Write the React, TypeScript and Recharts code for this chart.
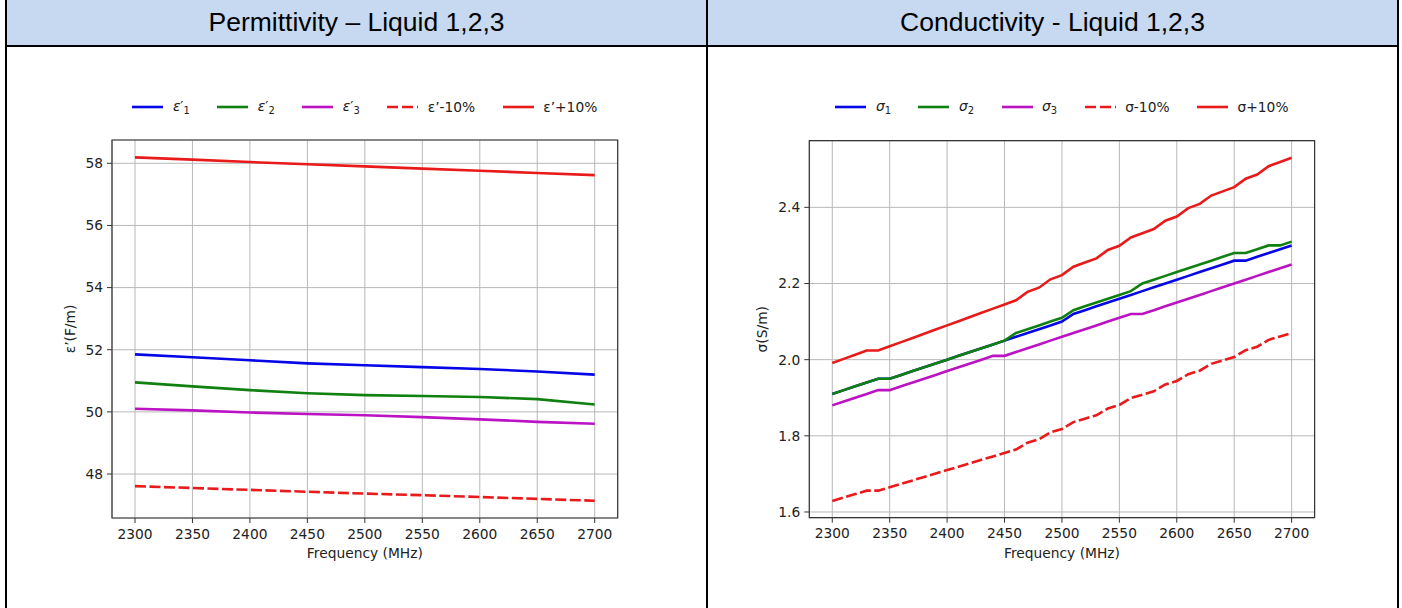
import React from 'react';
import { LineChart, Line, XAxis, YAxis, CartesianGrid, Legend, ReferenceArea } from 'recharts';

// ---------- Permittivity (left) ----------
const FREQ_EPS = [2300, 2350, 2400, 2450, 2500, 2550, 2600, 2650, 2700];
const EPS1 = [51.85, 51.76, 51.66, 51.56, 51.5, 51.44, 51.38, 51.3, 51.2];
const EPS2 = [50.95, 50.82, 50.7, 50.6, 50.54, 50.51, 50.48, 50.41, 50.24];
const EPS3 = [50.1, 50.05, 49.98, 49.93, 49.89, 49.83, 49.76, 49.68, 49.62];
const EPS_LO = [47.61, 47.55, 47.49, 47.43, 47.37, 47.32, 47.26, 47.2, 47.14];
const EPS_HI = [58.19, 58.12, 58.04, 57.97, 57.9, 57.83, 57.76, 57.69, 57.62];

// ---------- Conductivity (right) ----------
const FREQ_SIG = [
  2300, 2310, 2320, 2330, 2340, 2350, 2360, 2370, 2380, 2390, 2400, 2410, 2420, 2430,
  2440, 2450, 2460, 2470, 2480, 2490, 2500, 2510, 2520, 2530, 2540, 2550, 2560, 2570,
  2580, 2590, 2600, 2610, 2620, 2630, 2640, 2650, 2660, 2670, 2680, 2690, 2700,
];
const SIG1 = [
  1.91, 1.92, 1.93, 1.94, 1.95, 1.95, 1.96, 1.97, 1.98, 1.99, 2.0, 2.01, 2.02, 2.03,
  2.04, 2.05, 2.06, 2.07, 2.08, 2.09, 2.1, 2.12, 2.13, 2.14, 2.15, 2.16, 2.17, 2.18,
  2.19, 2.2, 2.21, 2.22, 2.23, 2.24, 2.25, 2.26, 2.26, 2.27, 2.28, 2.29, 2.3,
];
const SIG2 = [
  1.91, 1.92, 1.93, 1.94, 1.95, 1.95, 1.96, 1.97, 1.98, 1.99, 2.0, 2.01, 2.02, 2.03,
  2.04, 2.05, 2.07, 2.08, 2.09, 2.1, 2.11, 2.13, 2.14, 2.15, 2.16, 2.17, 2.18, 2.2,
  2.21, 2.22, 2.23, 2.24, 2.25, 2.26, 2.27, 2.28, 2.28, 2.29, 2.3, 2.3, 2.31,
];
const SIG3 = [
  1.88, 1.89, 1.9, 1.91, 1.92, 1.92, 1.93, 1.94, 1.95, 1.96, 1.97, 1.98, 1.99, 2.0,
  2.01, 2.01, 2.02, 2.03, 2.04, 2.05, 2.06, 2.07, 2.08, 2.09, 2.1, 2.11, 2.12, 2.12,
  2.13, 2.14, 2.15, 2.16, 2.17, 2.18, 2.19, 2.2, 2.21, 2.22, 2.23, 2.24, 2.25,
];
const SIG_LO = [
  1.629, 1.638, 1.647, 1.656, 1.656, 1.665, 1.674, 1.683, 1.692, 1.701, 1.71, 1.719,
  1.728, 1.737, 1.746, 1.755, 1.764, 1.782, 1.791, 1.809, 1.818, 1.836, 1.845, 1.854,
  1.872, 1.881, 1.899, 1.908, 1.917, 1.935, 1.944, 1.962, 1.971, 1.989, 1.998, 2.007,
  2.025, 2.034, 2.052, 2.061, 2.07,
];
const SIG_HI = [
  1.991, 2.002, 2.013, 2.024, 2.024, 2.035, 2.046, 2.057, 2.068, 2.079, 2.09, 2.101,
  2.112, 2.123, 2.134, 2.145, 2.156, 2.178, 2.189, 2.211, 2.222, 2.244, 2.255, 2.266,
  2.288, 2.299, 2.321, 2.332, 2.343, 2.365, 2.376, 2.398, 2.409, 2.431, 2.442, 2.453,
  2.475, 2.486, 2.508, 2.519, 2.53,
];

// ---------- ticks / labels ----------
const X_TICKS = [2300, 2350, 2400, 2450, 2500, 2550, 2600, 2650, 2700];
const EPS_TICKS = [48, 50, 52, 54, 56, 58];
const SIG_TICKS = [1.6, 1.8, 2.0, 2.2, 2.4];
const X_DOMAIN: [number, number] = [2280, 2720];
const EPS_DOMAIN: [number, number] = [46.585, 58.75];
const SIG_DOMAIN: [number, number] = [1.585, 2.575];
const TITLE_LEFT = 'Permittivity – Liquid 1,2,3';
const TITLE_RIGHT = 'Conductivity - Liquid 1,2,3';
const X_LABEL = 'Frequency (MHz)';
const EPS_LABEL = 'ε’(F/m)';
const SIG_LABEL = 'σ(S/m)';

const epsData = FREQ_EPS.map((f, i) => ({ f, a: EPS1[i], b: EPS2[i], c: EPS3[i], lo: EPS_LO[i], hi: EPS_HI[i] }));
const sigData = FREQ_SIG.map((f, i) => ({ f, a: SIG1[i], b: SIG2[i], c: SIG3[i], lo: SIG_LO[i], hi: SIG_HI[i] }));

const BLUE = '#0606e6';
const GREEN = '#108010';
const MAGENTA = '#bb12c4';
const RED = '#e81a1a';
const FONT = '"DejaVu Sans", sans-serif';
const FS = 13.8;
const TXT = '#222';
const SPINE = '#333';
const LW = 2.6;
const DASH = '11 3.5';

type Item = { label: React.ReactNode; color: string; dashed?: boolean };

const Sub = ({ children }: { children: React.ReactNode }) => (
  <span style={{ fontSize: '0.72em', position: 'relative', top: '0.28em' }}>{children}</span>
);

const LegendRow = ({ items }: { items: Item[] }) => (
  <div
    style={{
      display: 'flex',
      justifyContent: 'center',
      alignItems: 'center',
      height: 16,
      fontFamily: FONT,
      fontSize: FS,
      color: TXT,
      whiteSpace: 'nowrap',
    }}
  >
    {items.map((it, i) => (
      <div key={i} style={{ display: 'flex', alignItems: 'center', marginLeft: i ? 27.5 : 0 }}>
        <svg width={31} height={10} style={{ display: 'block' }}>
          <line x1={0} y1={5} x2={31} y2={5} stroke={it.color} strokeWidth={LW} strokeDasharray={it.dashed ? '11 4' : undefined} />
        </svg>
        <span style={{ marginLeft: 9.5, lineHeight: '16px' }}>{it.label}</span>
      </div>
    ))}
  </div>
);

const epsItems: Item[] = [
  { label: <span><i>ε</i>′<Sub>1</Sub></span>, color: BLUE },
  { label: <span><i>ε</i>′<Sub>2</Sub></span>, color: GREEN },
  { label: <span><i>ε</i>′<Sub>3</Sub></span>, color: MAGENTA },
  { label: 'ε’-10%', color: RED, dashed: true },
  { label: 'ε’+10%', color: RED },
];
const sigItems: Item[] = [
  { label: <span><i>σ</i><Sub>1</Sub></span>, color: BLUE },
  { label: <span><i>σ</i><Sub>2</Sub></span>, color: GREEN },
  { label: <span><i>σ</i><Sub>3</Sub></span>, color: MAGENTA },
  { label: 'σ-10%', color: RED, dashed: true },
  { label: 'σ+10%', color: RED },
];

const tickStyle = { fontFamily: FONT, fontSize: FS, fill: TXT };

const makeYLabel = (text: string, bx: number) => (props: any) => {
  const vb = props.viewBox || {};
  const cy = (vb.y || 0) + (vb.height || 0) / 2;
  return (
    <text
      x={bx}
      y={cy}
      transform={`rotate(-90, ${bx}, ${cy})`}
      textAnchor="middle"
      style={{ fontFamily: FONT, fontSize: FS, fill: TXT }}
    >
      {text}
    </text>
  );
};

const makeXLabel = (text: string, by: number) => (props: any) => {
  const vb = props.viewBox || {};
  const cx = (vb.x || 0) + (vb.width || 0) / 2;
  return (
    <text x={cx} y={by} textAnchor="middle" style={{ fontFamily: FONT, fontSize: FS, fill: TXT }}>
      {text}
    </text>
  );
};

type PanelProps = {
  data: any[];
  width: number;
  margin: { top: number; right: number; bottom: number; left: number };
  yDomain: [number, number];
  yTicks: number[];
  yFmt: (v: number) => string;
  yLabel: string;
  yLabelX: number;
  items: Item[];
  legendLeft: number;
  legendWidth: number;
};

const Panel = (p: PanelProps) => (
  <LineChart width={p.width} height={608} data={p.data} margin={p.margin}>
    <CartesianGrid stroke="#b8b8b8" strokeWidth={1} />
    <XAxis
      dataKey="f"
      type="number"
      domain={X_DOMAIN}
      ticks={X_TICKS}
      interval={0}
      allowDataOverflow
      height={40}
      axisLine={false}
      tickLine={{ stroke: SPINE, strokeWidth: 1 }}
      tickSize={5}
      tickMargin={6}
      tick={tickStyle}
      label={{ content: makeXLabel(X_LABEL, 557.5) }}
    />
    <YAxis
      type="number"
      domain={p.yDomain}
      ticks={p.yTicks}
      interval={0}
      allowDataOverflow
      width={60}
      axisLine={false}
      tickLine={{ stroke: SPINE, strokeWidth: 1 }}
      tickSize={5}
      tickMargin={4}
      tick={tickStyle}
      tickFormatter={p.yFmt}
      label={{ content: makeYLabel(p.yLabel, p.yLabelX) }}
    />
    <Legend
      verticalAlign="middle"
      align="center"
      content={() => <LegendRow items={p.items} />}
      wrapperStyle={{ left: p.legendLeft, top: 99, width: p.legendWidth, height: 16 }}
    />
    <Line type="linear" dataKey="a" stroke={BLUE} strokeWidth={LW} dot={false} isAnimationActive={false} />
    <Line type="linear" dataKey="b" stroke={GREEN} strokeWidth={LW} dot={false} isAnimationActive={false} />
    <Line type="linear" dataKey="c" stroke={MAGENTA} strokeWidth={LW} dot={false} isAnimationActive={false} />
    <Line type="linear" dataKey="lo" stroke={RED} strokeWidth={LW} strokeDasharray={DASH} dot={false} isAnimationActive={false} />
    <Line type="linear" dataKey="hi" stroke={RED} strokeWidth={LW} dot={false} isAnimationActive={false} />
    <ReferenceArea
      x1={X_DOMAIN[0]}
      x2={X_DOMAIN[1]}
      y1={p.yDomain[0]}
      y2={p.yDomain[1]}
      fill="none"
      fillOpacity={0}
      stroke={SPINE}
      strokeWidth={1.2}
      ifOverflow="visible"
    />
  </LineChart>
);

const HEADER_BG = '#c6d9f1';
const headerStyle: React.CSSProperties = {
  position: 'absolute', top: 0, height: 45, background: HEADER_BG,
  display: 'flex', alignItems: 'center', justifyContent: 'center',
  fontFamily: '"Liberation Sans", Arial, sans-serif', fontSize: 26.5, color: '#000',
};

export default function App() {
  return (
    <div style={{ position: 'absolute', left: 0, top: 0, width: 1402, height: 608, background: '#fff', overflow: 'hidden' }}>
      {/* table header cells */}
      <div style={{ ...headerStyle, left: 7, width: 699 }}>{TITLE_LEFT}</div>
      <div style={{ ...headerStyle, left: 708, width: 689 }}>{TITLE_RIGHT}</div>
      {/* borders */}
      <div style={{ position: 'absolute', left: 5, top: 0, width: 2, height: 608, background: '#000' }} />
      <div style={{ position: 'absolute', left: 706, top: 0, width: 2, height: 608, background: '#000' }} />
      <div style={{ position: 'absolute', left: 1397, top: 0, width: 2, height: 608, background: '#000' }} />
      <div style={{ position: 'absolute', left: 5, top: 45, width: 1394, height: 2, background: '#000' }} />

      {/* left chart */}
      <div style={{ position: 'absolute', left: 0, top: 0 }}>
        <Panel
          data={epsData}
          width={706}
          margin={{ top: 140, right: 88.3, bottom: 50, left: 52 }}
          yDomain={EPS_DOMAIN}
          yTicks={EPS_TICKS}
          yFmt={(v) => String(v)}
          yLabel={EPS_LABEL}
          yLabelX={75.2}
          items={epsItems}
          legendLeft={112}
          legendWidth={505.7}
        />
      </div>
      {/* right chart */}
      <div style={{ position: 'absolute', left: 708, top: 0 }}>
        <Panel
          data={sigData}
          width={694}
          margin={{ top: 140.7, right: 87.4, bottom: 50.3, left: 41.3 }}
          yDomain={SIG_DOMAIN}
          yTicks={SIG_TICKS}
          yFmt={(v) => v.toFixed(1)}
          yLabel={SIG_LABEL}
          yLabelX={58.7}
          items={sigItems}
          legendLeft={101.3}
          legendWidth={505.3}
        />
      </div>
    </div>
  );
}
